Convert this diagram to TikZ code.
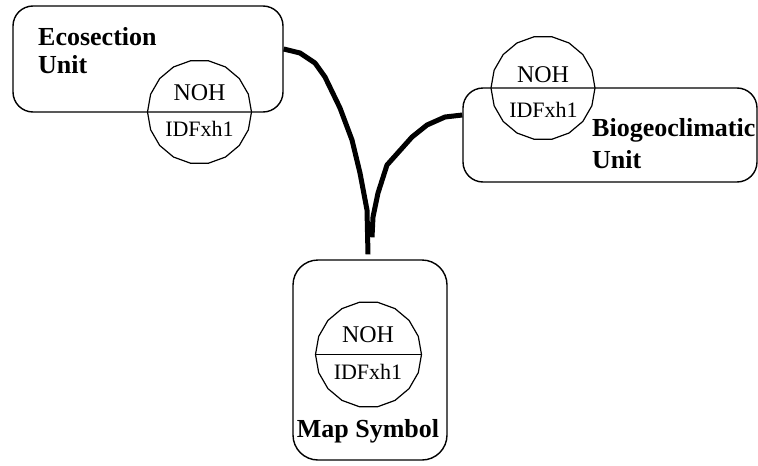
\documentclass[tikz,border=0pt]{standalone}
\usepackage{fontspec}
\newfontfamily\romanfont{Liberation Serif}
\usetikzlibrary{shapes.geometric}
\begin{document}
\begin{tikzpicture}[x=1pt,y=-1pt,
  unitbox/.style={draw, rounded corners=20pt, line width=1.4pt, inner sep=0pt},
  disc/.style={draw, regular polygon, regular polygon sides=18, inner sep=0pt, line width=1.2pt},
  divider/.style={line width=1.2pt},
  title/.style={font=\romanfont\bfseries\fontsize{26}{28}\selectfont, anchor=base west, inner sep=0pt},
  codetop/.style={font=\romanfont\fontsize{24}{26}\selectfont, anchor=base, inner sep=0pt},
  codebot/.style={font=\romanfont\fontsize{22}{24}\selectfont, anchor=base, inner sep=0pt},
  link/.style={line width=5pt, line join=round}]
\useasboundingbox (0,0) rectangle (758,466);

% Ecosection unit
\node[unitbox, minimum width=270pt, minimum height=106pt] (ecobox) at (148,59) {};
\node[title] (ecot1) at (38,45) {Ecosection};
\node[title] (ecot2) at (38,73) {Unit};
\node[disc, minimum size=104pt] (ecodisc) at (199.5,112) {};
\node[codetop] (econoh) at (199.5,100) {NOH};
\node[codebot] (ecoidf) at (199.5,136) {IDFxh1};

% Biogeoclimatic unit (its top edge splits the disc)
\node[unitbox, minimum width=294pt, minimum height=94pt] (biobox) at (610,135) {};
\node[disc, minimum size=104pt] (biodisc) at (543,88) {};
\node[codetop] (bionoh) at (543,82) {NOH};
\node[codebot] (bioidf) at (543.5,117) {IDFxh1};
\node[title] (biot1) at (592,136) {Biogeoclimatic};
\node[title] (biot2) at (592,168) {Unit};

% Map symbol
\node[unitbox, rounded corners=25pt, minimum width=154pt, minimum height=200pt] (mapbox) at (370,360) {};
\node[disc, minimum size=106pt] (mapdisc) at (368.5,354.5) {};
\draw[divider] (mapdisc.west) -- (mapdisc.east);
\node[codetop] (mapnoh) at (368,342) {NOH};
\node[codebot] (mapidf) at (368,379) {IDFxh1};
\node[title, anchor=base] (mapt) at (368,437) {Map Symbol};

% Connectors joining both units to the map symbol
\coordinate (ecotap) at ([yshift=10pt]ecobox.east);
\coordinate (biotap) at ([yshift=20pt]biobox.west);
\coordinate (mapleft) at ([xshift=-2pt,yshift=5pt]mapbox.north);
\coordinate (mapright) at ([xshift=2pt,yshift=22pt]mapbox.north);
\draw[link] (ecotap) -- (300,53) -- (315,63) -- (325,77) -- (340,108) -- (352,140)
  -- (360,173) -- (367,210) -- (mapleft);
\draw[link] (biotap) -- (445,117) -- (427,125) -- (412,137) -- (387,165) -- (378,193)
  -- (373,217) -- (mapright);
\end{tikzpicture}
\end{document}
